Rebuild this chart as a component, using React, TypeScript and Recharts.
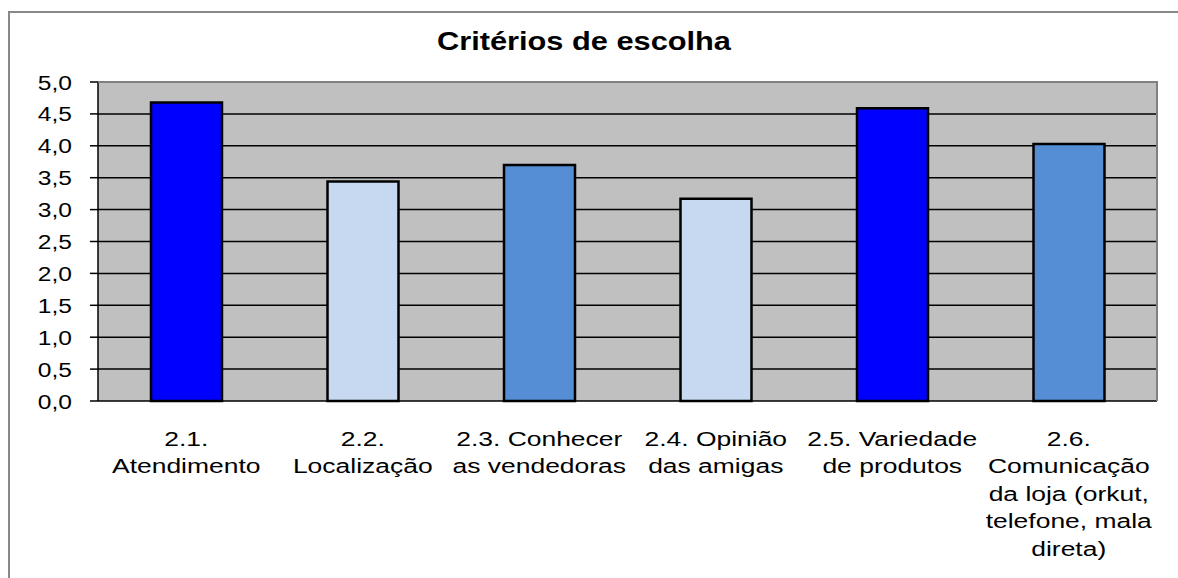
import React from 'react';
import { BarChart, Bar, XAxis, YAxis, CartesianGrid, Cell } from 'recharts';

const title = 'Critérios de escolha';
const categories = [
  '2.1.\nAtendimento',
  '2.2.\nLocalização',
  '2.3. Conhecer\nas vendedoras',
  '2.4. Opinião\ndas amigas',
  '2.5. Variedade\nde produtos',
  '2.6.\nComunicação\nda loja (orkut,\ntelefone, mala\ndireta)',
];
const values = [4.68, 3.44, 3.7, 3.17, 4.59, 4.03];
const barColors = ['#0000FF', '#C6D9F0', '#558ED5', '#C6D9F0', '#0000FF', '#558ED5'];
const yTicks = [0, 0.5, 1, 1.5, 2, 2.5, 3, 3.5, 4, 4.5, 5];
const boundaryTicks = [0, 1, 2, 3, 4, 5, 6];

const data = categories.map((c, i) => ({ name: c, value: values[i], idx: i + 0.5 }));

const FONT = '"Liberation Sans", Arial, sans-serif';
const SX = 1.26;

const CatTick = (props: any) => {
  const { x, y, payload } = props;
  const lines = String(payload.value).split('\n');
  return (
    <g transform={`translate(${x},${y}) scale(${SX},1)`}>
      <text textAnchor="middle" fontFamily={FONT} fontSize={21} fill="#000">
        {lines.map((l, i) => (
          <tspan key={i} x={0} dy={i === 0 ? 37 : 27.5}>
            {l}
          </tspan>
        ))}
      </text>
    </g>
  );
};

const YTick = (props: any) => {
  const { x, y, payload } = props;
  const label = Number(payload.value).toFixed(1).replace('.', ',');
  return (
    <g transform={`translate(${x},${y}) scale(${SX},1)`}>
      <text textAnchor="end" fontFamily={FONT} fontSize={19.5} fill="#000" dy={7.5}>
        {label}
      </text>
    </g>
  );
};

export default function App() {
  return (
    <div style={{ position: 'absolute', left: 0, top: 0, width: 1178, height: 578, background: '#fff', overflow: 'hidden' }}>
      <div
        style={{
          position: 'absolute',
          left: 8,
          top: 11,
          width: 1200,
          height: 600,
          borderLeft: '2px solid #888',
          borderTop: '2px solid #888',
        }}
      />
      <div
        style={{
          position: 'absolute',
          left: 0,
          top: 29,
          width: 1168,
          textAlign: 'center',
          fontFamily: FONT,
          fontWeight: 'bold',
          fontSize: 25,
          lineHeight: '25px',
          color: '#000',
          transform: 'scaleX(1.23)',
          transformOrigin: '584px 0',
        }}
      >
        {title}
      </div>
      <div style={{ position: 'absolute', left: 0, top: 0 }}>
        <BarChart
          width={1178}
          height={578}
          data={data}
          margin={{ top: 82, right: 21, bottom: 7, left: 0 }}
        >
          <CartesianGrid
            xAxisId="cat"
            vertical={false}
            fill="#C0C0C0"
            fillOpacity={1}
            stroke="#000"
            strokeWidth={1.5}
            horizontalValues={yTicks}
          />
          <XAxis
            xAxisId="b"
            type="number"
            dataKey="idx"
            domain={[0, 6]}
            ticks={boundaryTicks}
            allowDataOverflow
            height={0}
            tick={false}
            tickSize={7}
            tickLine={{ stroke: '#000', strokeWidth: 1.5 }}
            axisLine={{ stroke: '#000', strokeWidth: 2 }}
          />
          <XAxis
            xAxisId="cat"
            dataKey="name"
            height={170}
            interval={0}
            axisLine={false}
            tickLine={false}
            tick={<CatTick />}
          />
          <YAxis
            width={98}
            domain={[0, 5]}
            ticks={yTicks}
            interval={0}
            tick={<YTick />}
            tickSize={8}
            tickMargin={18}
            tickLine={{ stroke: '#000', strokeWidth: 1.5 }}
            axisLine={{ stroke: '#000', strokeWidth: 1.5 }}
          />
          <Bar
            xAxisId="cat"
            dataKey="value"
            barSize={71}
            stroke="#000"
            strokeWidth={2.5}
            isAnimationActive={false}
          >
            {data.map((d, i) => (
              <Cell key={i} fill={barColors[i]} />
            ))}
          </Bar>
        </BarChart>
      </div>
      <div
        style={{
          position: 'absolute',
          left: 98,
          top: 81,
          width: 1060,
          height: 320,
          boxSizing: 'border-box',
          borderTop: '2px solid #808080',
          borderRight: '2px solid #808080',
          pointerEvents: 'none',
        }}
      />
    </div>
  );
}
